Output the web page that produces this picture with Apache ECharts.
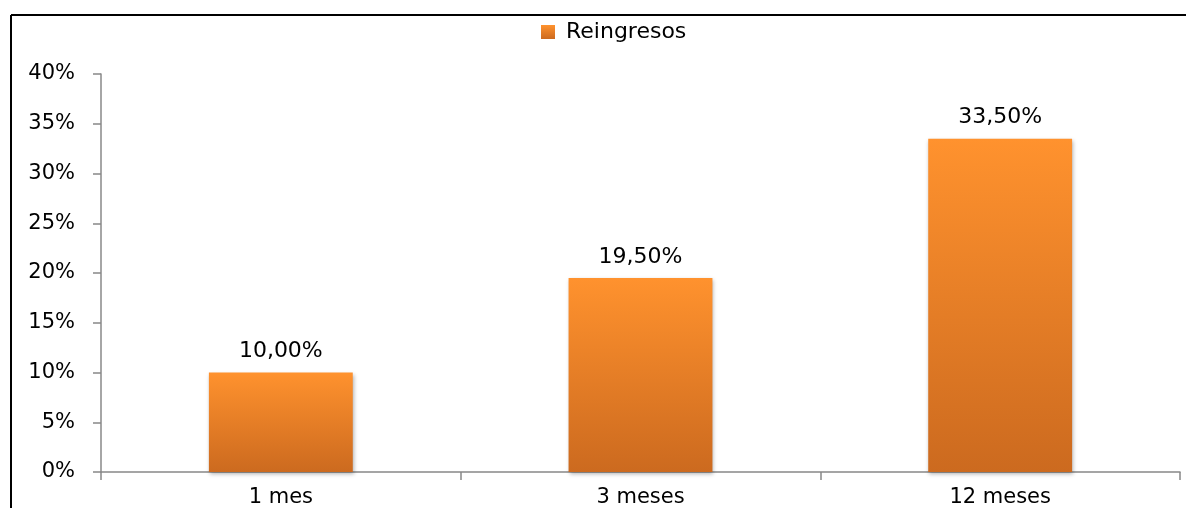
<!DOCTYPE html>
<html><head><meta charset="utf-8">
<script src="https://cdn.jsdelivr.net/npm/echarts@6/dist/echarts.min.js"></script>
<style>html,body{margin:0;padding:0;background:#fff}#c{width:1186px;height:508px}</style>
</head><body><div id="c"></div>
<script>
const categories = ['1 mes', '3 meses', '12 meses'];
const reingresos = [10.0, 19.5, 33.5];
const seriesName = 'Reingresos';

const chart = echarts.init(document.getElementById('c'));
const FONT = '"DejaVu Sans", Verdana, sans-serif';
chart.setOption({
  animation: false,
  backgroundColor: '#fff',
  graphic: [
    { type: 'line', shape: { x1: 11, y1: 15, x2: 1186, y2: 15 }, style: { stroke: '#000', lineWidth: 2 } },
    { type: 'line', shape: { x1: 11, y1: 15, x2: 11, y2: 508 }, style: { stroke: '#000', lineWidth: 2 } }
  ],
  legend: {
    left: 536, top: 16, itemWidth: 14, itemHeight: 14, itemGap: 8,
    icon: 'rect',
    textStyle: { fontFamily: FONT, fontSize: 22, color: '#000', padding: [0, 0, 0, 6] },
    data: [seriesName]
  },
  grid: { left: 101, right: 6, top: 74, bottom: 34, containLabel: false },
  xAxis: {
    type: 'category', data: categories, boundaryGap: true,
    axisLine: { lineStyle: { color: '#888', width: 1.5 } },
    axisTick: { show: true, length: 8, lineStyle: { color: '#888', width: 1.5 }, alignWithLabel: false },
    axisLabel: { fontFamily: FONT, fontSize: 21, color: '#000', margin: 15 }
  },
  yAxis: {
    type: 'value', min: 0, max: 40, interval: 5,
    axisLine: { show: true, lineStyle: { color: '#888', width: 1.5 } },
    axisTick: { show: true, length: 8, lineStyle: { color: '#888', width: 1.5 } },
    splitLine: { show: false },
    axisLabel: { fontFamily: FONT, fontSize: 21, color: '#000', margin: 26, formatter: v => v + '%' }
  },
  series: [{
    name: seriesName, type: 'bar', data: reingresos, barWidth: '40%',
    itemStyle: {
      color: new echarts.graphic.LinearGradient(0, 0, 0, 1, [
        { offset: 0, color: '#FF922E' },
        { offset: 1, color: '#CC6A1F' }
      ]),
      shadowColor: 'rgba(0,0,0,0.3)', shadowBlur: 4, shadowOffsetX: 1, shadowOffsetY: 2
    },
    label: {
      show: true, position: 'top', distance: 10,
      fontFamily: FONT, fontSize: 22, color: '#000',
      formatter: p => p.value.toFixed(2).replace('.', ',') + '%'
    }
  }]
});
</script></body></html>
